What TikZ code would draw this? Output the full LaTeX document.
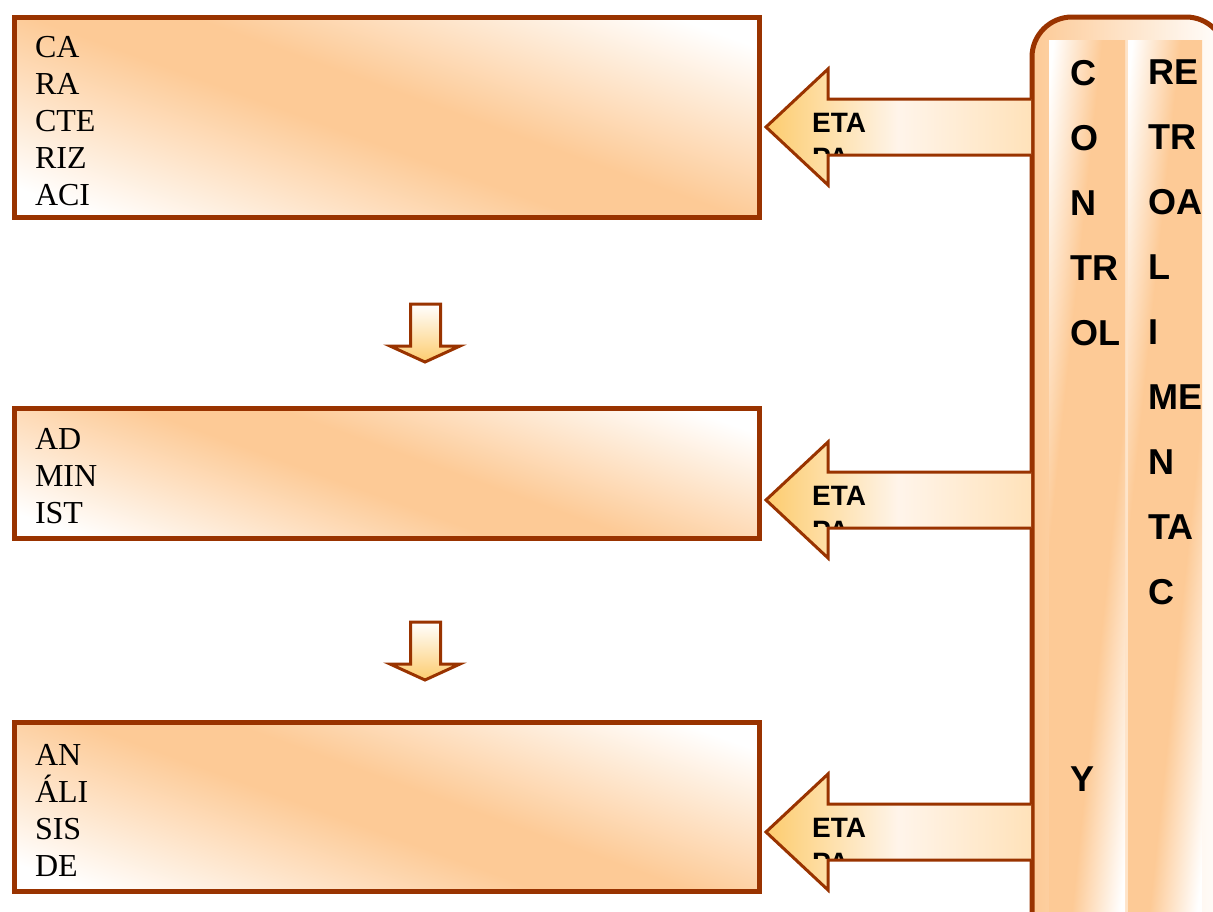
\documentclass[tikz,border=0pt]{standalone}
\usepackage{fontspec}
\setmainfont{Liberation Serif}
\setsansfont{Liberation Sans}
\definecolor{brd}{RGB}{153,51,0}
\definecolor{org}{RGB}{253,202,150}
\definecolor{yel}{RGB}{253,204,110}
\definecolor{lorg}{RGB}{255,226,186}
\pgfdeclareverticalshading{band}{100bp}{color(0bp)=(white); color(24bp)=(white);
  color(40bp)=(org); color(60bp)=(org); color(76bp)=(white); color(100bp)=(white)}
\pgfdeclareverticalshading{softband}{100bp}{color(0bp)=(white); color(22bp)=(white);
  color(46bp)=(org); color(54bp)=(org); color(78bp)=(white); color(100bp)=(white)}
\newcommand\etaarrow[2]{%
  \shade[left color=yel, right color=lorg, middle color=white!80!org]
    (766,#1) -- (828,#1-58) -- (828,#1-28) -- (1031,#1-28) -- (1031,#1+28)
    -- (828,#1+28) -- (828,#1+58) -- cycle;
  \begin{scope}
    \clip (800,#1-27) rectangle (1000,#1+26);
    \node[etatxt] (#2) at (812,#1-14) {ETA\\PA};
  \end{scope}
  \draw[arrline] (1031,#1-28) -- (828,#1-28) -- (828,#1-58) -- (766,#1)
    -- (828,#1+58) -- (828,#1+28) -- (1031,#1+28);
}
\newcommand\dnarrow[1]{%
  \shade[top color=white, bottom color=yel]
    (410.5,#1) -- (440.5,#1) -- (440.5,#1+42) -- (460,#1+42) -- (425,#1+58)
    -- (390,#1+42) -- (410.5,#1+42) -- cycle;
  \draw[arrline]
    (410.5,#1) -- (440.5,#1) -- (440.5,#1+42) -- (460,#1+42) -- (425,#1+58)
    -- (390,#1+42) -- (410.5,#1+42) -- cycle;
}
\newcommand\tstrut[1]{\rule{0pt}{#1}}
\begin{document}
\begin{tikzpicture}[x=1pt,y=-1pt,
  box/.style={draw=brd, line width=5pt, rectangle, minimum width=745pt,
    text width=704pt, inner xsep=20.5pt, inner ysep=0pt, align=left,
    shading=softband, shading angle=-20, font=\fontsize{32}{37}\selectfont},
  colshade/.style={shading=band, shading angle=84},
  arrline/.style={draw=brd, line width=3pt, line join=miter},
  etatxt/.style={anchor=north west, inner sep=0pt, align=left,
    font=\sffamily\bfseries\fontsize{28}{35}\selectfont},
  coltxt/.style={anchor=north west, inner sep=0pt, align=left,
    font=\sffamily\bfseries\fontsize{36}{65}\selectfont}]
\useasboundingbox (0,0) rectangle (1213,911);
\clip (0,0) rectangle (1213,911);

% left boxes
\node[box, minimum height=200pt] (b1) at (387,117.5) {\tstrut{29pt}CA\\RA\\CTE\\RIZ\\ACI};
\node[box, minimum height=130pt] (b2) at (387,473.5) {\tstrut{27pt}AD\\MIN\\IST};
\node[box, minimum height=169pt] (b3) at (387,807) {\tstrut{29pt}AN\\ÁLI\\SIS\\DE};

% down arrows
\dnarrow{304}
\dnarrow{622}

% right panel
\shade[left color=org, right color=white, rounded corners=40pt]
  (1032,960) -- (1032,17) -- (1226,17) -- (1226,960) -- cycle;
\shade[colshade] (1049,40) rectangle (1125,911);
\shade[colshade] (1128,40) rectangle (1202,911);
\draw[brd, line width=5pt, rounded corners=40pt]
  (1032,960) -- (1032,17) -- (1226,17) -- (1226,960);

\node[coltxt] (c1) at (1070,60) {C\\O\\N\\TR\\OL};
\node[coltxt] (c2) at (1148,60) {RE\\TR\\OA\\L\\I\\ME\\N\\TA\\C};
\node[coltxt] (c3) at (1070,767) {Y};

% block arrows from panel to boxes
\etaarrow{127}{e1}
\etaarrow{500}{e2}
\etaarrow{832}{e3}
\end{tikzpicture}
\end{document}
